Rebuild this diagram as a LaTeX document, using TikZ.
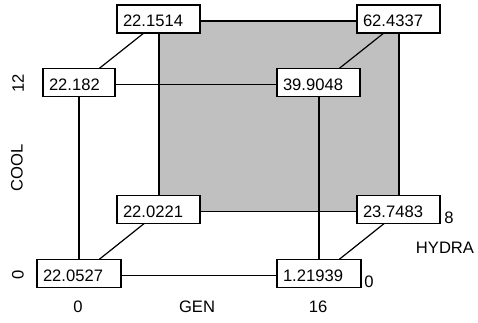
\documentclass[tikz,border=0pt]{standalone}
\usepackage{fontspec}
\setmainfont{Liberation Sans}
\newcommand{\cubelabelfont}{\fontsize{16.6pt}{19pt}\selectfont}
\definecolor{backgray}{HTML}{C0C0C0}
\begin{document}
\begin{tikzpicture}[x=1pt,y=-1pt,
  valbox/.style={draw, fill=white, line width=1.3pt, text width=#1, align=left,
    inner xsep=6pt, inner ysep=0pt, text height=21.9pt, text depth=6.1pt,
    font=\cubelabelfont},
  edge/.style={line width=1.2pt},
  axlabel/.style={inner sep=0pt, font=\cubelabelfont}]
\useasboundingbox (0,0) rectangle (478,323);
% corners
\coordinate (bTL) at (159,21);
\coordinate (bTR) at (399,21);
\coordinate (bBL) at (159,211.7);
\coordinate (bBR) at (399,211.7);
\coordinate (fTL) at (79,84.5);
\coordinate (fTR) at (319,84.5);
\coordinate (fBL) at (79,275.5);
\coordinate (fBR) at (319,275.5);
% back face
\draw[edge, fill=backgray] (bTL) rectangle (bBR);
% diagonals
\draw[edge] (fTL) -- (bTL);
\draw[edge] (fTR) -- (bTR);
\draw[edge] (fBL) -- (bBL);
\draw[edge] (fBR) -- (bBR);
% front face
\draw[edge] (fTL) -- (fTR) -- (fBR) -- (fBL) -- cycle;
% value boxes
\node[valbox=71pt] (v1) at (158.5,19) {22.1514};
\node[valbox=71pt] (v2) at (398.5,19) {62.4337};
\node[valbox=60pt] (v3) at (79,82.5) {22.182};
\node[valbox=71pt] (v4) at (318.5,82.5) {39.9048};
\node[valbox=71pt] (v5) at (158.5,209.7) {22.0221};
\node[valbox=71pt] (v6) at (398.5,209.7) {23.7483};
\node[valbox=72pt] (v7) at (79,273.5) {22.0527};
\node[valbox=72pt] (v8) at (319,273.5) {1.21939};
% axis labels
\node[axlabel, rotate=90] (c12) at (18,83) {12};
\node[axlabel, rotate=90] (cool) at (17,168) {COOL};
\node[axlabel, rotate=90] (c0) at (18,275) {0};
\node[axlabel] (g0) at (78,307) {0};
\node[axlabel] (gen) at (197,307) {GEN};
\node[axlabel] (g16) at (318,307) {16};
\node[axlabel] (h8) at (449,218) {8};
\node[axlabel] (hydra) at (445,248) {HYDRA};
\node[axlabel] (h0) at (369,282) {0};
\end{tikzpicture}
\end{document}
